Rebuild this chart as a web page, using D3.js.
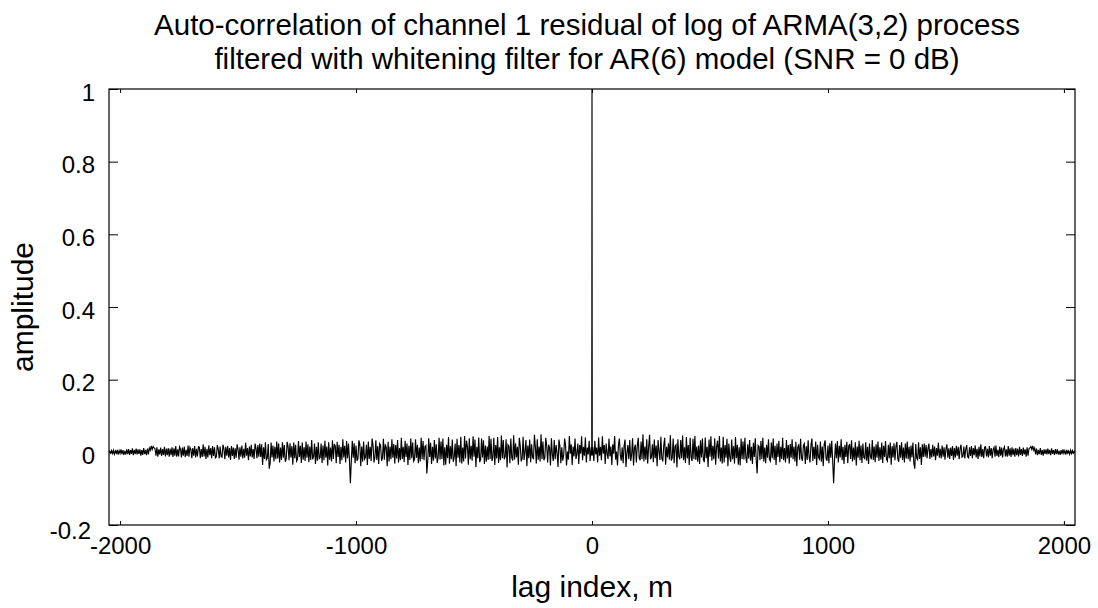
<!DOCTYPE html>
<html><head><meta charset="utf-8">
<script src="https://cdn.jsdelivr.net/npm/d3@7"></script>
<style>
body{margin:0;background:#fff}
svg{display:block}
text{font-family:"Liberation Sans",Arial,Helvetica,sans-serif;fill:#000}
</style>
</head><body>
<svg id="chart" width="1098" height="608"></svg>
<script>
const titleLines = [
  "Auto-correlation of channel 1 residual of log of ARMA(3,2) process",
  "filtered with whitening filter for AR(6) model (SNR = 0 dB)"
];
const xLabel = "lag index, m";
const yLabel = "amplitude";
const xTicks = [-2000, -1000, 0, 1000, 2000];
const yTicks = [-0.2, 0, 0.2, 0.4, 0.6, 0.8, 1];
const xDomain = [-2047, 2047];
const yDomain = [-0.2, 1];

// autocorrelation at lag 0
const zeroLagValue = 1;
// lags 1, 2, 3 (x 1/1000)
const nearZeroMilli = [12, -9, 15];
// lag spacing of the sampled positive-lag values below
const lagStep = 4;
// positive-lag autocorrelation values (x 1/1000), lags 4, 8, ..., 2048
// negative lags mirror these (r(-m) = r(m))
const acfMilli = [
  8,-24,32,-6,13,-28,41,-9,15,-22,44,-4,20,-32,24,-3,
  -18,38,-11,16,-35,22,-4,45,-20,2,-36,19,38,-7,-23,14,
  -30,17,35,-40,-2,20,-19,34,-24,-6,39,-36,13,21,-28,18,
  40,-15,-22,30,-18,50,-25,16,-20,36,-31,14,48,-19,-13,22,
  -27,35,-16,19,-38,34,2,-21,43,-17,-25,18,40,-34,15,-14,
  25,-20,47,-23,-15,38,-30,17,21,-42,36,-12,-19,34,-16,46,
  -22,14,-29,42,-17,20,-35,40,-13,-24,37,-18,45,-21,16,-26,
  19,-32,33,-14,38,-20,-27,41,-16,15,-40,35,-12,44,-23,18,
  -19,39,-34,16,32,-17,45,-25,13,-31,43,-28,20,-15,37,-38,
  24,-13,-26,35,-19,17,-31,42,-16,21,-34,14,-36,38,-18,30,
  -20,40,-14,-29,22,-17,34,-23,15,-32,26,-13,39,-21,-58,19,
  16,-22,31,-18,40,-25,13,-30,21,-15,36,-19,-24,27,-16,38,
  -21,18,-35,24,-13,32,-27,15,-18,40,-22,12,-28,34,-17,20,
  -31,23,-15,36,-19,16,-25,29,-38,14,22,-20,37,-16,-23,19,
  24,-32,17,-21,33,-13,-28,20,38,-24,15,-18,30,-35,21,-14,
  -19,30,-26,16,-38,22,33,-17,-23,19,-30,25,-15,32,-22,-85,
  -20,24,-16,31,-28,18,-14,36,-22,15,-32,21,-13,29,-30,17,
  23,-18,33,-25,13,-20,28,-36,16,-15,32,-22,19,-29,24,-14,
  -17,28,-23,15,-32,24,-12,-19,34,-21,16,-27,22,-15,30,-24,
  14,-20,27,-29,18,-13,31,-19,-24,21,-16,27,-34,17,-14,25,
  -22,16,29,-18,-26,20,-15,28,-21,13,-28,24,-17,30,-19,15,
  -25,19,-14,27,-30,-45,23,-16,-20,28,-18,14,-35,22,-13,24,
  -12,20,-16,11,24,-18,9,-14,21,-11,16,-22,12,-9,26,-15,
  10,-17,19,-12,14,-20,8,22,-15,11,-18,13,-10,17,-21,12,
  -14,18,-9,15,-19,10,21,-13,-11,16,-17,9,20,-12,-15,14,
  -10,17,-16,12,-8,19,-14,10,-18,15,-11,22,-13,9,-16,14,
  15,-11,10,-14,17,-9,12,-16,8,14,-12,19,-10,7,-13,16,
  -9,13,-14,9,15,-11,8,-12,17,-9,11,-13,14,-8,10,-12,
  12,-8,10,-11,15,-7,9,-10,13,-6,8,-12,14,-9,10,12,
  16,8,18,6,12,-6,10,-8,7,-5,12,-7,6,-9,8,-4,
  8,-6,10,-5,7,-8,11,-4,6,-7,9,-5,8,-6,4,-7,
  6,-5,8,-3,5,-6,7,-2,4,-5,6,-3,5,-2,3,1
];

const svg = d3.select("#chart");
const plot = {left: 109, right: 1075, top: 89, bottom: 525};

const x = d3.scaleLinear().domain(xDomain).range([plot.left, plot.right]);
const y = d3.scaleLinear().domain(yDomain).range([plot.bottom, plot.top]);

const pos = nearZeroMilli.map((v, i) => ({lag: i + 1, v: v / 1000}))
  .concat(acfMilli.map((v, i) => ({lag: (i + 1) * lagStep, v: v / 1000})));
const series = pos.slice().reverse().map(d => ({lag: -d.lag, v: d.v}))
  .concat([{lag: 0, v: zeroLagValue}], pos);

svg.append("clipPath").attr("id", "clip").append("rect")
  .attr("x", plot.left).attr("y", plot.top)
  .attr("width", plot.right - plot.left).attr("height", plot.bottom - plot.top);

svg.append("path")
  .datum(series)
  .attr("clip-path", "url(#clip)")
  .attr("fill", "none")
  .attr("stroke", "#000")
  .attr("stroke-width", 1.15)
  .attr("stroke-linejoin", "miter")
  .attr("d", d3.line().x(d => x(d.lag)).y(d => y(d.v)));

// frame
svg.append("rect")
  .attr("x", plot.left).attr("y", plot.top)
  .attr("width", plot.right - plot.left).attr("height", plot.bottom - plot.top)
  .attr("fill", "none").attr("stroke", "#000").attr("stroke-width", 1.2);

const fmtY = d => d === 0 ? "0" : String(+d.toFixed(1));
const fmtX = d => String(d);

// axes (ticks pointing inward)
const axBottom = svg.append("g").attr("transform", `translate(0,${plot.bottom})`)
  .call(d3.axisBottom(x).tickValues(xTicks).tickSize(-4).tickPadding(12).tickFormat(fmtX));
const axTop = svg.append("g").attr("transform", `translate(0,${plot.top})`)
  .call(d3.axisTop(x).tickValues(xTicks).tickSize(-4).tickFormat(""));
const axLeft = svg.append("g").attr("transform", `translate(${plot.left},0)`)
  .call(d3.axisLeft(y).tickValues(yTicks).tickSize(-9).tickPadding(14).tickFormat(fmtY));
const axRight = svg.append("g").attr("transform", `translate(${plot.right},0)`)
  .call(d3.axisRight(y).tickValues(yTicks).tickSize(-9).tickFormat(""));

[axBottom, axTop, axLeft, axRight].forEach(g => {
  g.select(".domain").remove();
  g.selectAll(".tick line").attr("stroke", "#000").attr("stroke-width", 1);
});
axBottom.selectAll("text").attr("font-size", 24).attr("fill", "#000")
  .attr("font-family", "Liberation Sans, Arial, sans-serif").attr("dy", "0.71em");
axLeft.selectAll("text").attr("font-size", 24).attr("fill", "#000")
  .attr("font-family", "Liberation Sans, Arial, sans-serif")
  .attr("dx", d => d === -0.2 ? -4 : 0)
  .attr("dy", d => d === -0.2 ? "0.55em" : "0.47em");

// title
svg.append("g").selectAll("text").data(titleLines).join("text")
  .attr("x", 587).attr("y", (d, i) => 35 + i * 34)
  .attr("text-anchor", "middle").attr("font-size", 29.5).text(d => d);

svg.append("text").attr("x", 592).attr("y", 597)
  .attr("text-anchor", "middle").attr("font-size", 30).text(xLabel);

svg.append("text").attr("transform", `translate(33,307) rotate(-90)`)
  .attr("text-anchor", "middle").attr("font-size", 30).text(yLabel);
</script>
</body></html>
